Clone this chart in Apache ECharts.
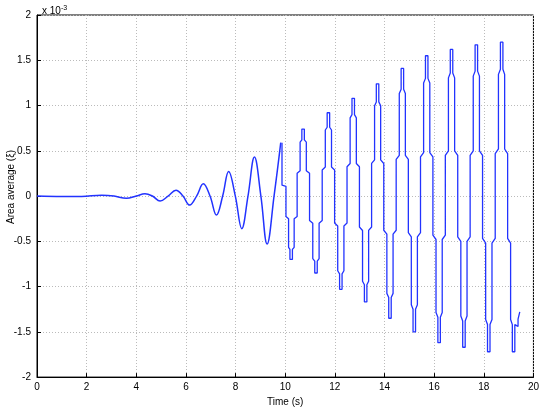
<!DOCTYPE html>
<html>
<head>
<meta charset="utf-8">
<script src="https://cdn.jsdelivr.net/npm/echarts@6/dist/echarts.min.js"></script>
<style>html,body{margin:0;padding:0;background:#fff}#chart{width:542px;height:412px}</style>
</head>
<body>
<div id="chart"></div>
<script>
// smooth growing oscillation before t = 9.8 (values in 1e-3)
var smoothPts = [[0,0],[1,-0.005],[1.8,-0.004],[2.6,0.008],[3.1,0],[3.6,-0.025],[4.0,0],[4.35,0.025],
    [4.65,0],[4.96,-0.055],[5.28,0],[5.6,0.065],[5.88,0],[6.15,-0.1],[6.43,0],[6.7,0.135],[6.97,0],
    [7.23,-0.21],[7.48,0],[7.72,0.27],[7.99,0],[8.25,-0.36],[8.5,0],[8.76,0.43],[9.02,0],[9.27,-0.53],
    [9.55,0],[9.82,0.59]];

// stepped part: extremum times, values and the shelf levels next to each extremum
var extTimes = [9.82, 10.24, 10.72, 11.24, 11.74, 12.24, 12.74, 13.24, 13.72, 14.22, 14.72, 15.2, 15.70, 16.2, 16.70, 17.2, 17.70, 18.2, 18.72, 19.2];
var extVals  = [0.59, -0.70, 0.74, -0.85, 0.92, -1.03, 1.08, -1.17, 1.24, -1.35, 1.41, -1.50, 1.55, -1.62, 1.62, -1.67, 1.67, -1.72, 1.70, -1.72];
var outerShelf = [0.12, -0.59, 0.62, -0.72, 0.76, -0.86, 0.9, -0.98, 1.04, -1.12, 1.18, -1.25, 1.3, -1.34, 1.36, -1.38, 1.38, -1.42, 1.4, -1.42];
var innerShelf = [0.12, -0.25, 0.28, -0.3, 0.32, -0.33, 0.36, -0.38, 0.4, -0.42, 0.45, -0.45, 0.48, -0.48, 0.5, -0.5, 0.5, -0.52, 0.52, -0.52];
var tailPts = [[19.25,-1.42],[19.38,-1.44],[19.38,-1.36],[19.45,-1.28]];

var xTicks = [0,2,4,6,8,10,12,14,16,18,20];
var yTicks = [-2,-1.5,-1,-0.5,0,0.5,1,1.5,2];

// build stepped path from the read values
var stepPts = [];
for (var i = 0; i < extTimes.length; i++) {
    var t = extTimes[i], v = extVals[i];
    if (i > 0) stepPts.push([t - 0.05, v]);
    stepPts.push([t + 0.05, v]);
    if (i + 1 < extTimes.length) {
        var dt = extTimes[i + 1] - t;
        stepPts.push([t + 0.05, outerShelf[i]]);
        stepPts.push([t + dt / 4, outerShelf[i] * 0.96]);
        stepPts.push([t + dt / 4, innerShelf[i]]);
        stepPts.push([t + dt / 2, innerShelf[i] * 0.9]);
        stepPts.push([t + dt / 2, innerShelf[i + 1] * 0.9]);
        stepPts.push([t + 3 * dt / 4, innerShelf[i + 1]]);
        stepPts.push([t + 3 * dt / 4, outerShelf[i + 1] * 0.96]);
        stepPts.push([extTimes[i + 1] - 0.05, outerShelf[i + 1]]);
    }
}
stepPts = stepPts.concat(tailPts);

var chart = echarts.init(document.getElementById('chart'));
var txt = {color: '#000', fontFamily: 'Liberation Sans, Arial', fontSize: 10};
chart.setOption({
    animation: false,
    grid: {left: 37, right: 5, top: 15, bottom: 30, show: true, borderColor: '#000', borderWidth: 1},
    title: {
        text: '{a|x 10}{b|-3}', left: 37, top: 0,
        textStyle: {fontWeight: 'normal', rich: {a: {fontSize: 10, color: '#000', fontFamily: 'Liberation Sans'},
            b: {fontSize: 7, color: '#000', verticalAlign: 'top', padding: [0, 0, 6, 0]}}}
    },
    graphic: [{type: 'text', left: 6, top: 150, rotation: Math.PI / 2,
        style: {text: 'Area average (ξ)', font: '10px Liberation Sans', fill: '#000'}}],
    xAxis: {
        type: 'value', min: 0, max: 20, interval: 2,
        name: 'Time (s)', nameLocation: 'middle', nameGap: 17, nameTextStyle: txt,
        axisLine: {onZero: false, lineStyle: {color: '#000'}},
        axisTick: {inside: true, length: 4, lineStyle: {color: '#000'}},
        axisLabel: Object.assign({margin: 5, formatter: function (v) { return xTicks.indexOf(v) >= 0 ? v : ''; }}, txt),
        splitLine: {lineStyle: {color: '#bbb', type: [1, 2]}}
    },
    yAxis: {
        type: 'value', min: -2, max: 2, interval: 0.5,
        axisLine: {onZero: false, lineStyle: {color: '#000'}},
        axisTick: {inside: true, length: 4, lineStyle: {color: '#000'}},
        axisLabel: Object.assign({margin: 6, formatter: function (v) { return yTicks.indexOf(v) >= 0 ? v : ''; }}, txt),
        splitLine: {lineStyle: {color: '#bbb', type: [1, 2]}}
    },
    series: [
        {type: 'line', data: smoothPts, smooth: 0.4, showSymbol: false, lineStyle: {color: '#2233ff', width: 1.5}},
        {type: 'line', data: stepPts, showSymbol: false, lineStyle: {color: '#2233ff', width: 1.3}}
    ]
});
</script>
</body>
</html>
